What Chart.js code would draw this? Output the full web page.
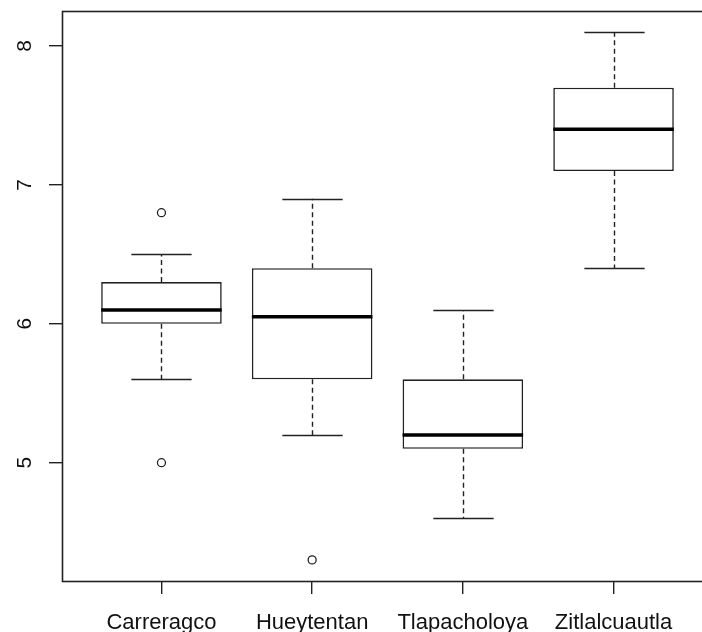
<!DOCTYPE html>
<html>
<head>
<meta charset="utf-8">
<script src="https://cdn.jsdelivr.net/npm/chart.js@4.4.1/dist/chart.umd.min.js"></script>
<style>
  html, body { margin: 0; padding: 0; background: #fff; overflow: hidden; }
  #wrap { width: 702px; height: 632px; overflow: hidden; }
  canvas { display: block; }
</style>
</head>
<body>
<div id="wrap"><canvas id="box" width="730" height="632"></canvas></div>
<script>
// Five-number summaries per site
const sites = ['Carreragco', 'Hueytentan', 'Tlapacholoya', 'Zitlalcuautla'];
const whiskerLow = [5.6, 5.2, 4.6, 6.4];
const q1 = [6.0, 5.6, 5.1, 7.1];
const median = [6.1, 6.05, 5.2, 7.4];
const q3 = [6.3, 6.4, 5.6, 7.7];
const whiskerHigh = [6.5, 6.9, 6.1, 8.1];
// outliers as [site index, value]
const outliers = [[0, 6.8], [0, 5.0], [1, 4.3]];
const yTicks = [5, 6, 7, 8];

const ink = '#222';
const font = 'Liberation Sans, Arial, sans-serif';

// whiskers (dashed) + caps, drawn under the boxes
const whiskerPlugin = {
    id: 'whiskers',
    beforeDatasetsDraw(chart) {
        const ctx = chart.ctx;
        const x = chart.scales.x, y = chart.scales.y;
        const capHalf = (x.getPixelForValue(1.2) - x.getPixelForValue(1));
        ctx.save();
        ctx.strokeStyle = ink;
        ctx.lineWidth = 1.4;
        sites.forEach((s, i) => {
            const px = Math.round(x.getPixelForValue(i + 1)) + 0.5;
            ctx.setLineDash([5, 3.5]);
            ctx.beginPath();
            ctx.moveTo(px, y.getPixelForValue(q3[i]));
            ctx.lineTo(px, y.getPixelForValue(whiskerHigh[i]));
            ctx.moveTo(px, y.getPixelForValue(q1[i]));
            ctx.lineTo(px, y.getPixelForValue(whiskerLow[i]));
            ctx.stroke();
            ctx.setLineDash([]);
            ctx.beginPath();
            [whiskerHigh[i], whiskerLow[i]].forEach(v => {
                const py = Math.round(y.getPixelForValue(v)) + 0.5;
                ctx.moveTo(px - capHalf, py);
                ctx.lineTo(px + capHalf, py);
            });
            ctx.stroke();
        });
        ctx.restore();
    },
    afterDatasetsDraw(chart) {
        const ctx = chart.ctx;
        const x = chart.scales.x, y = chart.scales.y;
        const half = (x.getPixelForValue(1.4) - x.getPixelForValue(1));
        ctx.save();
        ctx.strokeStyle = '#000';
        ctx.lineWidth = 3.5;
        sites.forEach((s, i) => {
            const px = x.getPixelForValue(i + 1);
            const py = y.getPixelForValue(median[i]);
            ctx.beginPath();
            ctx.moveTo(px - half, py);
            ctx.lineTo(px + half, py);
            ctx.stroke();
        });
        ctx.restore();
    }
};

// full box frame + rotated y labels
const framePlugin = {
    id: 'frame',
    afterDraw(chart) {
        const ctx = chart.ctx;
        const a = chart.chartArea;
        const y = chart.scales.y;
        ctx.save();
        ctx.strokeStyle = ink;
        ctx.lineWidth = 1.6;
        ctx.strokeRect(Math.round(a.left) + 0.5, Math.round(a.top) + 0.5,
            Math.round(a.right - a.left), Math.round(a.bottom - a.top));
        ctx.fillStyle = '#111';
        ctx.font = '21px ' + font;
        ctx.textAlign = 'center';
        ctx.textBaseline = 'alphabetic';
        yTicks.forEach(t => {
            ctx.save();
            ctx.translate(31, y.getPixelForValue(t));
            ctx.rotate(-Math.PI / 2);
            ctx.fillText(String(t), 0, 0);
            ctx.restore();
        });
        ctx.restore();
    }
};

new Chart(document.getElementById('box'), {
    type: 'bar',
    data: {
        datasets: [{
            label: 'box',
            data: sites.map((s, i) => ({ x: i + 1, y: [q1[i], q3[i]] })),
            backgroundColor: '#fff',
            borderColor: ink,
            borderWidth: 1.6,
            borderSkipped: false,
            barPercentage: 0.8,
            categoryPercentage: 1
        }, {
            type: 'scatter',
            label: 'outliers',
            data: outliers.map(o => ({ x: o[0] + 1, y: o[1] })),
            pointStyle: 'circle',
            pointRadius: 4,
            backgroundColor: '#fff',
            borderColor: ink,
            borderWidth: 1.3
        }]
    },
    options: {
        responsive: false,
        animation: false,
        layout: { padding: { top: 11, right: 17, left: 0, bottom: 0 } },
        plugins: { legend: { display: false }, tooltip: { enabled: false } },
        scales: {
            x: {
                type: 'linear',
                offset: false,
                min: 0.34,
                max: 4.66,
                afterBuildTicks: s => { s.ticks = sites.map((n, i) => ({ value: i + 1 })); },
                afterFit: s => { s.height = 51; },
                border: { display: false },
                grid: { offset: false, drawOnChartArea: false, drawTicks: true, tickLength: 13, color: ink, lineWidth: 1.4 },
                ticks: {
                    padding: 16,
                    color: '#111',
                    font: { family: font, size: 22 },
                    maxRotation: 0,
                    autoSkip: false,
                    callback: v => sites[v - 1]
                }
            },
            y: {
                min: 4.148,
                max: 8.252,
                afterBuildTicks: s => { s.ticks = yTicks.map(v => ({ value: v })); },
                afterFit: s => { s.width = 62; },
                border: { display: false },
                grid: { drawOnChartArea: false, drawTicks: true, tickLength: 13, color: ink, lineWidth: 1.4 },
                ticks: { display: false }
            }
        }
    },
    plugins: [whiskerPlugin, framePlugin]
});
</script>
</body>
</html>
